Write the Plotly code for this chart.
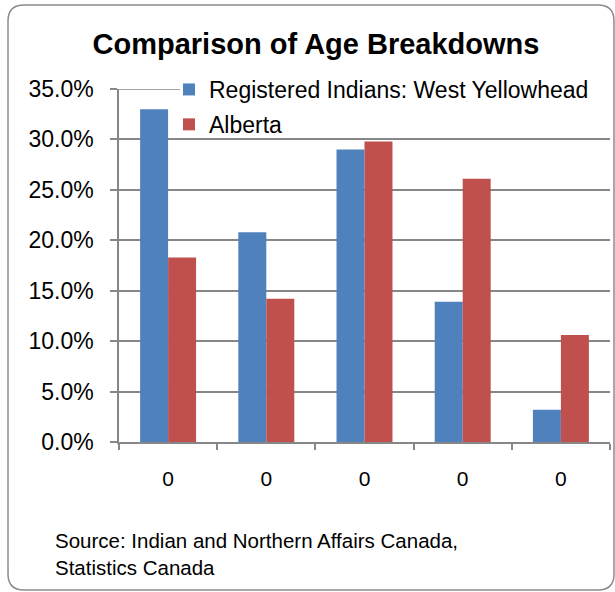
import plotly.graph_objects as go

# ---- data ----
categories = ["0", "0", "0", "0", "0"]
series_names = ["Registered Indians: West Yellowhead", "Alberta"]
west_yellowhead = [33.0, 20.8, 29.0, 13.9, 3.2]
alberta = [18.3, 14.2, 29.8, 26.1, 10.6]
y_ticks = [0, 5, 10, 15, 20, 25, 30, 35]
y_tick_labels = ["0.0%", "5.0%", "10.0%", "15.0%", "20.0%", "25.0%", "30.0%", "35.0%"]

W, H = 615, 592
ML, MR, MT, MB = 119, 5, 89, 150
PW, PH = W - ML - MR, H - MT - MB

def px(x):
    return (x - ML) / PW

def py(y):
    return (H - MB - y) / PH

FONT = "Liberation Sans, Arial, sans-serif"
GRAY = "#878787"

xs = list(range(len(categories)))
fig = go.Figure()
fig.add_trace(go.Bar(x=xs, y=west_yellowhead, name=series_names[0],
                     marker=dict(color="#4F81BD", line=dict(width=0)),
                     legendgroup="a"))
fig.add_trace(go.Bar(x=xs, y=alberta, name=series_names[1],
                     marker=dict(color="#C0504D", line=dict(width=0)),
                     legendgroup="b"))

# rounded border
l, t, r, b, rad = 8, 5, 614, 590, 16
path = (f"M {px(l)},{py(t+rad)} Q {px(l)},{py(t)} {px(l+rad)},{py(t)} "
        f"L {px(r-rad)},{py(t)} Q {px(r)},{py(t)} {px(r)},{py(t+rad)} "
        f"L {px(r)},{py(b-rad)} Q {px(r)},{py(b)} {px(r-rad)},{py(b)} "
        f"L {px(l+rad)},{py(b)} Q {px(l)},{py(b)} {px(l)},{py(b-rad)} Z")

fig.update_layout(
    width=W, height=H,
    margin=dict(l=ML, r=MR, t=MT, b=MB, autoexpand=False),
    paper_bgcolor="white", plot_bgcolor="white",
    font=dict(family=FONT, color="black", size=22),
    barmode="group", bargap=0.43, bargroupgap=0,
    title=dict(text="<b>Comparison of Age Breakdowns</b>",
               font=dict(family=FONT, size=29, color="black"),
               xref="container", yref="container",
               x=316 / W, xanchor="center", y=1 - 44 / H, yanchor="middle"),
    legend=dict(x=px(169), y=py(68), xanchor="left", yanchor="top",
                bgcolor="rgba(0,0,0,0)", font=dict(size=23, family=FONT),
                tracegroupgap=2, itemclick=False),
    xaxis=dict(range=[-0.5, len(categories) - 0.5],
               tickmode="array", tickvals=xs, ticktext=categories,
               ticks="", showgrid=False, showline=True, linecolor=GRAY,
               linewidth=1.5, zeroline=False, ticklabelstandoff=17,
               tickfont=dict(size=21),
               minor=dict(tickmode="array",
                          tickvals=[v - 0.5 for v in xs] + [xs[-1] + 0.5],
                          ticks="outside", ticklen=6, tickcolor=GRAY,
                          tickwidth=1.5, showgrid=False)),
    yaxis=dict(range=[0, 35], tickmode="array", tickvals=y_ticks,
               ticktext=y_tick_labels, showgrid=True,
               gridcolor=GRAY, gridwidth=1.5, showline=True, linecolor=GRAY,
               linewidth=1.5, ticks="outside", ticklen=7, tickcolor=GRAY,
               tickwidth=1.5, zeroline=False, tickfont=dict(size=23),
               ticklabelstandoff=12),
    shapes=[
        dict(type="rect", xref="paper", yref="paper",
             x0=px(180), x1=px(612), y0=py(80), y1=py(160),
             fillcolor="white", line=dict(width=0), layer="between"),
        dict(type="line", xref="paper", yref="y",
             x0=0, x1=px(180), y0=y_ticks[-1], y1=y_ticks[-1],
             line=dict(color=GRAY, width=1.5), layer="between"),
        dict(type="path", path=path, xref="paper", yref="paper",
             line=dict(color="#8C8C8C", width=1.5), layer="above"),
    ],
    annotations=[dict(text="Source: Indian and Northern Affairs Canada,<br>Statistics Canada",
                      xref="paper", yref="paper", x=px(53), y=py(527),
                      xanchor="left", yanchor="top", align="left",
                      showarrow=False, font=dict(size=20.5, family=FONT))],
)

fig.write_html("out.html", post_script="document.body.style.margin='0';",
               config={"displayModeBar": False})
